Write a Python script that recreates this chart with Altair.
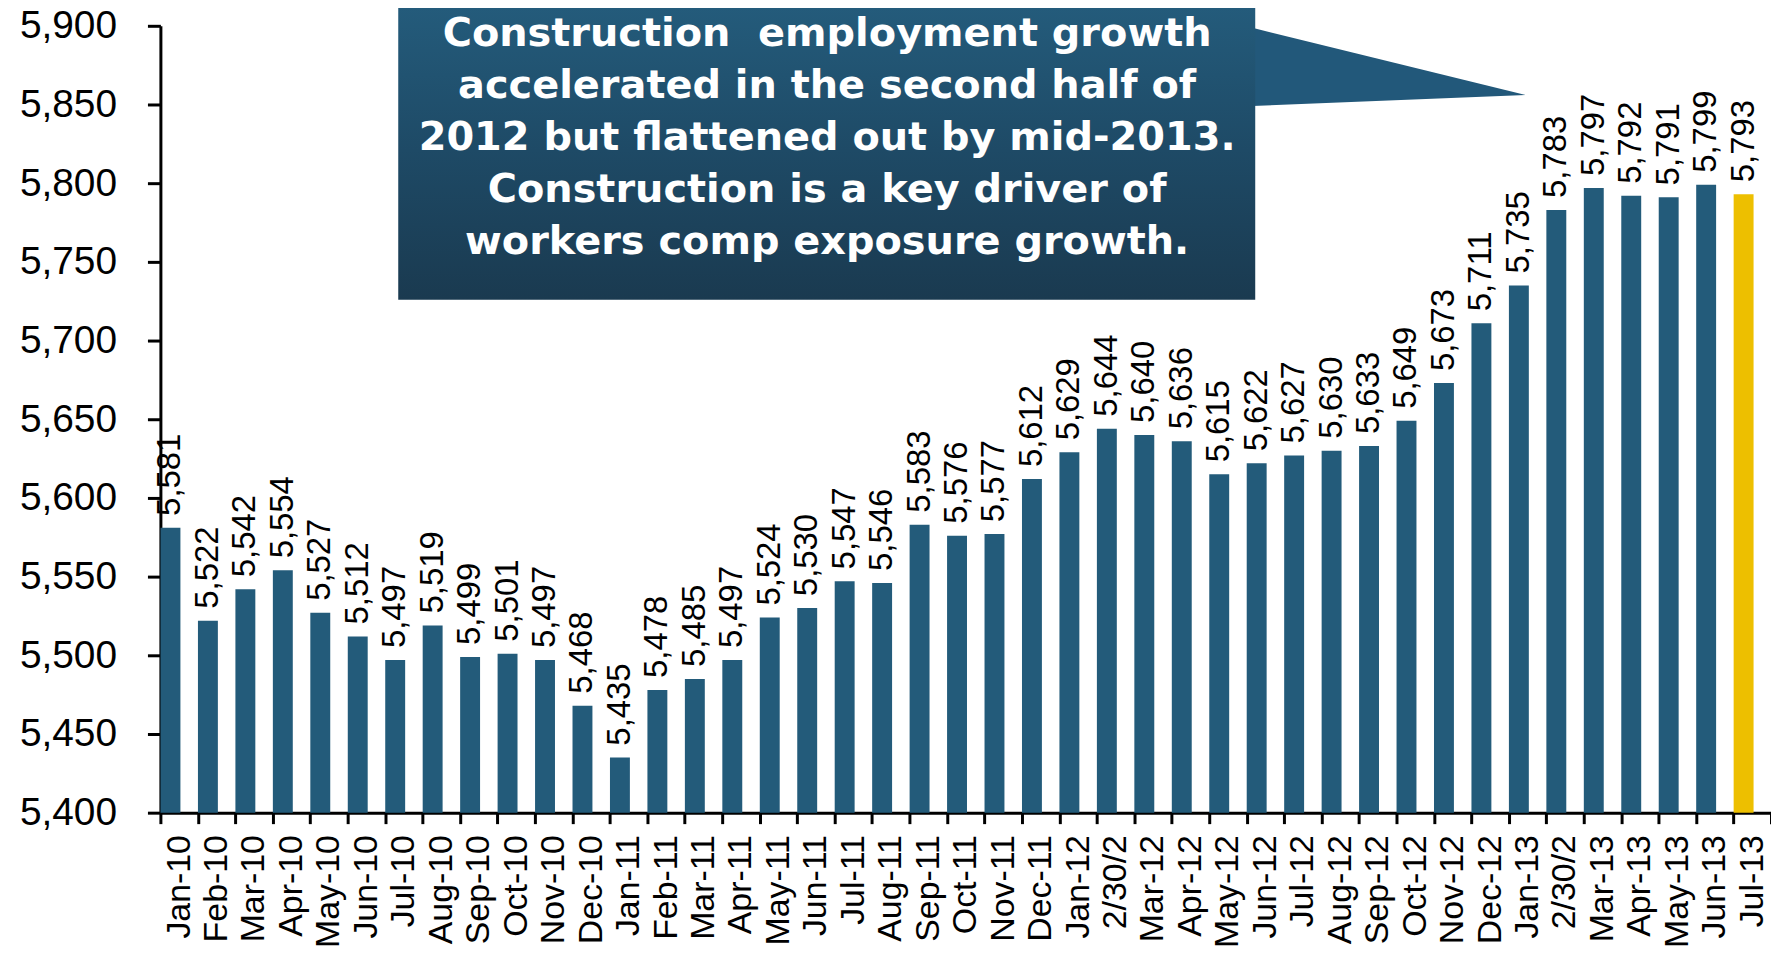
import altair as alt
import pandas as pd

months = ["Jan-10", "Feb-10", "Mar-10", "Apr-10", "May-10", "Jun-10", "Jul-10", "Aug-10",
          "Sep-10", "Oct-10", "Nov-10", "Dec-10",
          "Jan-11", "Feb-11", "Mar-11", "Apr-11", "May-11", "Jun-11", "Jul-11", "Aug-11",
          "Sep-11", "Oct-11", "Nov-11", "Dec-11",
          "Jan-12", "2/30/2", "Mar-12", "Apr-12", "May-12", "Jun-12", "Jul-12", "Aug-12",
          "Sep-12", "Oct-12", "Nov-12", "Dec-12",
          "Jan-13", "2/30/2", "Mar-13", "Apr-13", "May-13", "Jun-13", "Jul-13"]
values = [5581, 5522, 5542, 5554, 5527, 5512, 5497, 5519, 5499, 5501, 5497, 5468,
          5435, 5478, 5485, 5497, 5524, 5530, 5547, 5546, 5583, 5576, 5577, 5612,
          5629, 5644, 5640, 5636, 5615, 5622, 5627, 5630, 5633, 5649, 5673, 5711,
          5735, 5783, 5797, 5792, 5791, 5799, 5793]
y_ticks = list(range(5400, 5901, 50))

callout_lines = ["Construction\u00a0 employment growth",
                 "accelerated in the second half of",
                 "2012 but flattened out by mid-2013.",
                 "Construction is a key driver of",
                 "workers comp exposure growth."]

BLUE = "#235B7A"
GOLD = "#EDBF00"
FONT = "Liberation Sans"
N = len(months)
last = N - 1
base = y_ticks[0]

df = pd.DataFrame({"idx": list(range(N)), "month": months, "value": values})

label_array = "[" + ",".join("'" + m + "'" for m in months) + "]"

yscale = alt.Scale(domain=[y_ticks[0], y_ticks[-1]], zero=False, nice=False)
xband = alt.Scale(paddingInner=0, paddingOuter=0)

y_axis = alt.Axis(values=y_ticks, labelExpr="format(datum.value, ',')",
                  labelFontSize=39, labelFont=FONT, labelColor="black",
                  labelPadding=31, tickSize=13, tickWidth=3,
                  tickColor="black", domainColor="black",
                  domainWidth=3, grid=False, title=None)

x_enc = alt.X("idx:O", scale=xband, title=None,
              axis=alt.Axis(labelExpr=label_array + "[datum.value]",
                            labelAngle=270, labelFontSize=34, labelFont=FONT,
                            labelColor="black", labelPadding=11,
                            tickBand="extent", tickSize=11, tickWidth=3,
                            tickColor="black", domainColor="black",
                            domainWidth=3, grid=False))

bars = alt.Chart(df).mark_bar(width=20, xOffset=-8.7).encode(
    x=x_enc,
    y=alt.Y("value:Q", scale=yscale, axis=y_axis, title=None),
    y2=alt.datum(base),
    color=alt.condition(alt.datum.idx == last, alt.value(GOLD), alt.value(BLUE)),
)

labels = alt.Chart(df).mark_text(angle=270, align="left", baseline="middle",
                                 dx=12, xOffset=-8.7, fontSize=33, font=FONT,
                                 color="black").encode(
    x=alt.X("idx:O", scale=xband),
    y=alt.Y("value:Q", scale=yscale, axis=y_axis, title=None),
    text=alt.Text("value:Q", format=","),
)

main = alt.layer(bars, labels)

# Callout annotation in data units (x: band index, y: value)
ax_scale = alt.Scale(domain=[0, N], nice=False, zero=False)
box_df = pd.DataFrame({"ax": [6.35], "ax2": [29.23], "y": [5726.0], "y2": [5916.0]})
ptr_df = pd.DataFrame({"ax": [29.15, 36.45], "y": [5898.7, 5856.0], "y2": [5849.0, 5856.0]})
txt_df = pd.DataFrame({"ax": [17.8], "y": [5887.2], "t": ["\n".join(callout_lines)]})

grad = alt.Gradient(gradient="linear",
                    stops=[alt.GradientStop(color="#245C7C", offset=0),
                           alt.GradientStop(color="#1E4A66", offset=0.5),
                           alt.GradientStop(color="#1A3A50", offset=1)],
                    x1=0, x2=0, y1=0, y2=1)

box = alt.Chart(box_df).mark_rect(fill=grad).encode(
    x=alt.X("ax:Q", scale=ax_scale, axis=None),
    x2="ax2:Q",
    y=alt.Y("y:Q", scale=yscale, axis=y_axis, title=None),
    y2="y2:Q",
)
ptr = alt.Chart(ptr_df).mark_area(color="#22587A", opacity=1).encode(
    x=alt.X("ax:Q", scale=ax_scale, axis=None),
    y=alt.Y("y:Q", scale=yscale, axis=y_axis, title=None),
    y2="y2:Q",
)
txt = alt.Chart(txt_df).mark_text(lineBreak="\n", lineHeight=52.25, fontSize=40,
                                  font="DejaVu Sans", fontWeight="bold", color="white",
                                  align="center", baseline="alphabetic").encode(
    x=alt.X("ax:Q", scale=ax_scale, axis=None),
    y=alt.Y("y:Q", scale=yscale, axis=y_axis, title=None),
    text="t:N",
)
annot = alt.layer(ptr, box, txt)

chart = alt.layer(main, annot).resolve_scale(x="independent").properties(
    width=1617, height=790,
    autosize=alt.AutoSizeParams(type="none"),
    padding={"left": 153, "top": 16, "right": 0, "bottom": 137},
    view=alt.ViewBackground(stroke="transparent", strokeWidth=0),
).configure_view(stroke="transparent", strokeWidth=0).configure_axis(grid=False).configure(background="white")

chart.save("out.html", embed_options={"renderer": "svg", "actions": False})
